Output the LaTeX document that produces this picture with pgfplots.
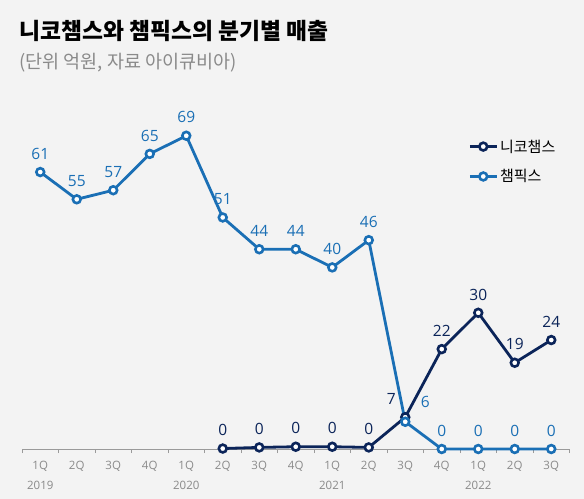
\documentclass[border=0pt]{standalone}
\usepackage{fontspec}
\setmainfont{Noto Sans CJK KR}
\newfontfamily\numfont{Open Sans}
\usepackage{pgfplots}
\pgfplotsset{compat=1.18}
\definecolor{bg}{HTML}{F3F3F3}
\definecolor{champ}{HTML}{1A6FB5}
\definecolor{nico}{HTML}{0B2459}
\definecolor{gtext}{HTML}{8A8A8A}
\definecolor{axisg}{HTML}{9A9A9A}
\begin{document}
\begin{tikzpicture}
\fill[bg] (0,0) rectangle (584bp,499bp);
\node[anchor=base west, font=\fontsize{22.8bp}{26bp}\selectfont\bfseries, text=black] at (16bp,459bp) {니코챔스와 챔픽스의 분기별 매출};
\node[anchor=base west, font=\fontsize{18.5bp}{22bp}\selectfont, text=gtext] at (16bp,430bp) {(단위 억원, 자료 아이큐비아)};
\begin{axis}[
  at={(22bp,50bp)}, anchor=south west,
  x=36.5bp, y=4.54bp,
  xmin=-0.5, xmax=14.5, ymin=0, ymax=75,
  clip=false,
  axis y line=none,
  axis x line*=bottom,
  x axis line style={draw=axisg, line width=0.8bp, -},
  xtick={0,...,14},
  xticklabels={{1Q\\2019},2Q,3Q,4Q,{1Q\\2020},2Q,3Q,4Q,{1Q\\2021},2Q,3Q,4Q,{1Q\\2022},2Q,3Q},
  major tick length=0pt,
  minor xtick={-0.5,0.5,...,14.5},
  minor tick length=4bp,
  tick align=outside,
  minor tick style={draw=axisg, line width=0.8bp},
  xticklabel style={align=center, text=gtext, font=\numfont\fontsize{11.5bp}{20bp}\selectfont, yshift=-9bp},
  legend style={at={(0.815,0.915)}, anchor=north west, draw=none, fill=none,
     font=\fontsize{15bp}{17bp}\selectfont, row sep=12bp, inner sep=0pt},
  legend cell align=left,
  legend image code/.code={
    \draw[#1, mark=none] (0cm,0cm) -- (0.95cm,0cm);
    \draw[#1, only marks] plot coordinates {(0.475cm,0cm)};
  },
  every axis plot/.append style={line width=2.8bp, mark=o, mark size=3.9bp,
     mark options={fill=white, line width=2.6bp, solid}},
  nodes near coords style={font=\numfont\fontsize{15.5bp}{18bp}\selectfont, anchor=south, yshift=8bp},
]
\addplot[nico, mark=*, point meta=explicit symbolic, nodes near coords, nodes near coords style={text=nico}]
 coordinates {(5,0.1)[0] (6,0.35)[0] (7,0.5)[0] (8,0.5)[0] (9,0.35)[0] (10,7)[] (11,22)[22] (12,30)[30] (13,19)[19] (14,24)[24]};
\addlegendentry{니코챔스}
\addplot[champ, mark=*, point meta=explicit symbolic, nodes near coords, nodes near coords style={text=champ}]
 coordinates {(0,61)[61] (1,55)[55] (2,57)[57] (3,65)[65] (4,69)[69] (5,51)[51] (6,44)[44] (7,44)[44] (8,40)[40] (9,46)[46] (10,6)[] (11,0)[0] (12,0)[0] (13,0)[0] (14,0)[0]};
\addlegendentry{챔픽스}
\addplot[draw=none, mark=none, forget plot, point meta=explicit symbolic, nodes near coords,
  nodes near coords style={text=nico, anchor=south east, yshift=0bp, xshift=-5bp}]
 coordinates {(10,7)[7]};
\addplot[draw=none, mark=none, forget plot, point meta=explicit symbolic, nodes near coords,
  nodes near coords style={text=champ, anchor=west, yshift=12bp, xshift=11bp}]
 coordinates {(10,6)[6]};
\end{axis}
\pgfresetboundingbox
\useasboundingbox (0,0) rectangle (584bp,499bp);
\end{tikzpicture}
\end{document}
